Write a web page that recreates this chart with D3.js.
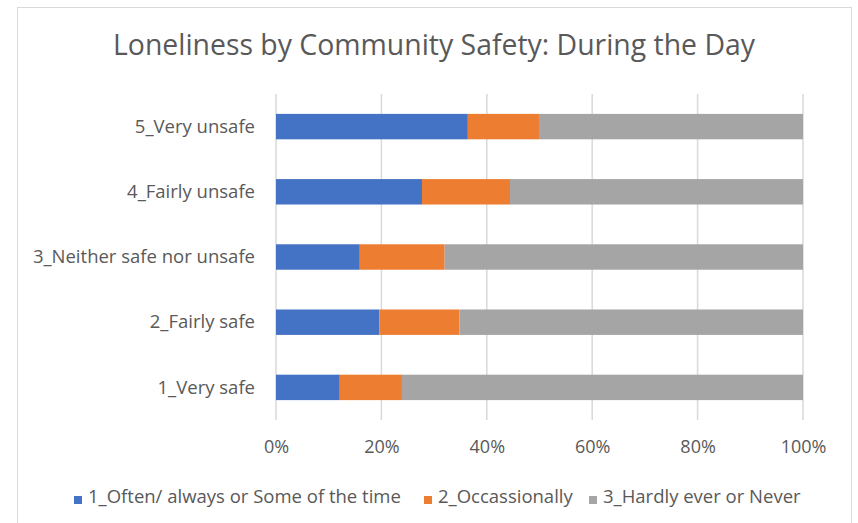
<!DOCTYPE html>
<html><head><meta charset="utf-8">
<script src="https://cdn.jsdelivr.net/npm/d3@7"></script>
<style>body{margin:0;background:#fff;} svg{display:block;}</style>
</head><body>
<svg id="c" width="858" height="523"></svg>
<script>
const title = "Loneliness by Community Safety: During the Day";
const categories = ["5_Very unsafe","4_Fairly unsafe","3_Neither safe nor unsafe","2_Fairly safe","1_Very safe"];
const seriesNames = ["1_Often/ always or Some of the time","2_Occassionally","3_Hardly ever or Never"];
const often = [36.4, 27.7, 15.9, 19.6, 12.1];
const occasionally = [13.5, 16.7, 16.1, 15.2, 11.8];
const hardly = [50.1, 55.6, 68.0, 65.2, 76.1];
const tickValues = [0, 20, 40, 60, 80, 100];
const colors = ["#4472C4","#ED7D31","#A5A5A5"];

const svg = d3.select("#c");
const font = "'Open Sans', sans-serif";
const textColor = "#595959";

svg.append("rect").attr("x",17.5).attr("y",7.5).attr("width",834).attr("height",520)
  .attr("fill","#fff").attr("stroke","#D9D9D9");

const x = d3.scaleLinear().domain([0,100]).range([276,803]);
const y = d3.scaleBand().domain(categories).range([94,420]).paddingInner(0.61).paddingOuter(0.305);

svg.append("g").selectAll("line").data(tickValues).join("line")
  .attr("x1",d=>x(d)).attr("x2",d=>x(d)).attr("y1",94).attr("y2",420)
  .attr("stroke","#D9D9D9").attr("stroke-width",1.5);

const rows = categories.map((c,i)=>({cat:c, vals:[often[i],occasionally[i],hardly[i]]}));
const stackData = rows.map(r=>{ const o={cat:r.cat}; seriesNames.forEach((s,j)=>o[s]=r.vals[j]); return o;});
const stack = d3.stack().keys(seriesNames)(stackData);

svg.append("g").selectAll("g").data(stack).join("g").attr("fill",(d,i)=>colors[i])
  .selectAll("rect").data(d=>d).join("rect")
  .attr("x",d=>x(d[0])).attr("width",d=>x(d[1])-x(d[0]))
  .attr("y",d=>y(d.data.cat)).attr("height",y.bandwidth());

const yAxis = d3.axisLeft(y).tickSize(0).tickPadding(0);
const ya = svg.append("g").attr("transform","translate(255,0)").call(yAxis);
ya.select(".domain").remove();
ya.selectAll("text").attr("fill",textColor).style("font-family",font).style("font-size","18.5px").attr("dy","0.34em");

const xAxis = d3.axisBottom(x).tickValues(tickValues).tickFormat(d=>d+"%").tickSize(0).tickPadding(0);
const xa = svg.append("g").attr("transform","translate(0,440)").call(xAxis);
xa.select(".domain").remove();
xa.selectAll("text").attr("fill",textColor).style("font-family",font).style("font-size","18px");

svg.append("text").attr("x",434).attr("y",55).attr("text-anchor","middle")
  .attr("fill",textColor).style("font-family",font).style("font-size","28.4px").text(title);

const legX = [74, 424, 589];
const lg = svg.append("g").selectAll("g").data(seriesNames).join("g")
  .attr("transform",(d,i)=>`translate(${legX[i]},0)`);
lg.append("rect").attr("x",0).attr("y",496).attr("width",8).attr("height",8).attr("fill",(d,i)=>colors[i]);
lg.append("text").attr("x",14).attr("y",503).attr("fill",textColor)
  .style("font-family",font).style("font-size","18.5px").text(d=>d);
</script>
</body></html>
